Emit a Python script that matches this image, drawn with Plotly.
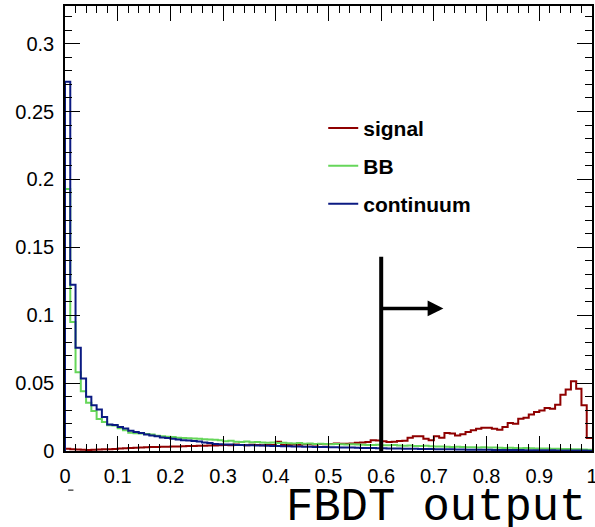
import numpy as np
import plotly.graph_objects as go

# ---------------- data (100 bins, 0..1) ----------------
bin_edges = np.linspace(0.0, 1.0, 101)

signal = [
    0.0016, 0.0013, 0.0011, 0.0009, 0.0008, 0.0010, 0.0011, 0.0012, 0.0013, 0.0015,
    0.0018, 0.0020, 0.0022, 0.0024, 0.0026, 0.0028, 0.0029, 0.0030, 0.0031, 0.0032,
    0.0033, 0.0034, 0.0035, 0.0036, 0.0037, 0.0038, 0.0039, 0.0040, 0.0041, 0.0042,
    0.0044, 0.0042, 0.0048, 0.0045, 0.0043, 0.0046, 0.0044, 0.0042, 0.0045, 0.0044,
    0.0068, 0.0045, 0.0044, 0.0047, 0.0046, 0.0049, 0.0050, 0.0048, 0.0051, 0.0050,
    0.0052, 0.0055, 0.0054, 0.0053, 0.0056, 0.0060, 0.0062, 0.0066, 0.0079, 0.0077,
    0.0071, 0.0066, 0.0068, 0.0074, 0.0076, 0.0098, 0.0108, 0.0108, 0.0091, 0.0079,
    0.0108, 0.0098, 0.0133, 0.0128, 0.0115, 0.0123, 0.0140, 0.0152, 0.0164, 0.0172,
    0.0172, 0.0164, 0.0157, 0.0177, 0.0206, 0.0201, 0.0238, 0.0245, 0.0268, 0.0287,
    0.0299, 0.0316, 0.0312, 0.0341, 0.0415, 0.0452, 0.0513, 0.0459, 0.0336, 0.0095,
]

bb = [
    0.1930, 0.0950, 0.0580, 0.0440, 0.0356, 0.0295, 0.0235, 0.0214, 0.0190, 0.0188,
    0.0168, 0.0152, 0.0135, 0.0130, 0.0128, 0.0126, 0.0122, 0.0112, 0.0108, 0.0105,
    0.0103, 0.0098, 0.0096, 0.0094, 0.0092, 0.0090, 0.0087, 0.0085, 0.0083, 0.0079,
    0.0072, 0.0075, 0.0068, 0.0066, 0.0070, 0.0064, 0.0066, 0.0062, 0.0060, 0.0062,
    0.0058, 0.0060, 0.0057, 0.0055, 0.0058, 0.0054, 0.0055, 0.0052, 0.0053, 0.0051,
    0.0050, 0.0052, 0.0049, 0.0048, 0.0050, 0.0047, 0.0046, 0.0045, 0.0044, 0.0046,
    0.0043, 0.0042, 0.0045, 0.0040, 0.0039, 0.0041, 0.0037, 0.0036, 0.0038, 0.0035,
    0.0033, 0.0034, 0.0031, 0.0030, 0.0031, 0.0029, 0.0028, 0.0028, 0.0026, 0.0027,
    0.0025, 0.0026, 0.0024, 0.0023, 0.0024, 0.0022, 0.0021, 0.0022, 0.0020, 0.0019,
    0.0018, 0.0019, 0.0017, 0.0016, 0.0015, 0.0015, 0.0013, 0.0012, 0.0011, 0.0009,
]

continuum = [
    0.2720, 0.1225, 0.0760, 0.0533, 0.0400, 0.0337, 0.0305, 0.0250, 0.0195, 0.0192,
    0.0177, 0.0165, 0.0150, 0.0140, 0.0133, 0.0122, 0.0115, 0.0108, 0.0100, 0.0095,
    0.0090, 0.0085, 0.0080, 0.0078, 0.0074, 0.0070, 0.0062, 0.0058, 0.0052, 0.0050,
    0.0048, 0.0047, 0.0045, 0.0044, 0.0042, 0.0042, 0.0040, 0.0040, 0.0038, 0.0037,
    0.0036, 0.0035, 0.0035, 0.0034, 0.0033, 0.0032, 0.0031, 0.0030, 0.0030, 0.0029,
    0.0028, 0.0027, 0.0026, 0.0026, 0.0025, 0.0024, 0.0023, 0.0022, 0.0022, 0.0021,
    0.0020, 0.0019, 0.0018, 0.0018, 0.0017, 0.0016, 0.0016, 0.0015, 0.0015, 0.0014,
    0.0013, 0.0013, 0.0012, 0.0012, 0.0011, 0.0011, 0.0010, 0.0010, 0.0010, 0.0009,
    0.0009, 0.0008, 0.0008, 0.0008, 0.0007, 0.0007, 0.0007, 0.0006, 0.0006, 0.0006,
    0.0005, 0.0005, 0.0005, 0.0004, 0.0004, 0.0004, 0.0003, 0.0003, 0.0003, 0.0002,
]

series_names = ["signal", "BB", "continuum"]
series_colors = ["#8f0000", "#66d65a", "#0b1a82"]

cut_value = 0.6
cut_top = 0.143
arrow_y = 0.105
arrow_end = 0.718


def step_xy(vals):
    x = [0.0] + list(bin_edges)
    y = [0.0] + list(vals) + [vals[-1]]
    return x, y


fig = go.Figure()
for name, vals, col in zip(series_names, [signal, bb, continuum], series_colors):
    x, y = step_xy(vals)
    fig.add_trace(go.Scatter(
        x=x, y=y, mode="lines", name=name, legendgroup=name,
        line=dict(color=col, width=2, shape="hv"),
    ))

axis_font = dict(family="Liberation Sans, Arial, sans-serif", size=20, color="black")

fig.update_layout(
    width=595, height=527,
    margin=dict(l=65, r=3, t=6, b=76, autoexpand=False),
    plot_bgcolor="white", paper_bgcolor="white",
    showlegend=True,
    legend=dict(
        x=0.490, y=0.771, xanchor="left", yanchor="top",
        bgcolor="rgba(0,0,0,0)", borderwidth=0,
        font=dict(family="Liberation Sans, Arial, sans-serif", size=21,
                  color="black", weight="bold"),
        tracegroupgap=7.5, traceorder="grouped",
    ),
)

fig.update_xaxes(
    range=[0, 1], tick0=0, dtick=0.1, automargin=False,
    ticks="inside", ticklen=15, tickwidth=1, tickcolor="black",
    mirror="allticks", showline=True, linecolor="black", linewidth=1.5,
    showgrid=False, zeroline=False, tickfont=axis_font,
    minor=dict(ticks="inside", ticklen=7, dtick=0.02, tickcolor="black", showgrid=False),
    ticklabelstandoff=6, ticklabeloverflow="allow",
)
fig.update_yaxes(
    range=[0, 0.3277], tick0=0, dtick=0.05, automargin=False,
    ticks="inside", ticklen=15, tickwidth=1, tickcolor="black",
    mirror="allticks", showline=True, linecolor="black", linewidth=1.5,
    showgrid=False, zeroline=False, tickfont=axis_font,
    minor=dict(ticks="inside", ticklen=7, dtick=0.01, tickcolor="black", showgrid=False),
    ticklabelstandoff=5,
)

# cut line and arrow
fig.add_shape(type="line", xref="x", yref="y",
              x0=cut_value, x1=cut_value, y0=0, y1=cut_top,
              line=dict(color="black", width=4))
fig.add_annotation(
    x=arrow_end, y=arrow_y, ax=cut_value, ay=arrow_y,
    xref="x", yref="y", axref="x", ayref="y",
    showarrow=True, arrowhead=2, arrowwidth=3.5, arrowsize=0.9,
    arrowcolor="black", text="",
)

# axis title
fig.add_annotation(
    text="FBDT output", xref="paper", yref="paper",
    x=0.992, y=-0.127, xanchor="right", yanchor="middle",
    showarrow=False,
    font=dict(family="Liberation Mono, DejaVu Sans Mono, monospace", size=45.5, color="black"),
)

# small stray dash under the axis
fig.add_shape(type="line", xref="paper", yref="paper",
              x0=0.006, x1=0.016, y0=-0.088, y1=-0.088,
              line=dict(color="#555555", width=1.5))

fig.write_html("out.html")
